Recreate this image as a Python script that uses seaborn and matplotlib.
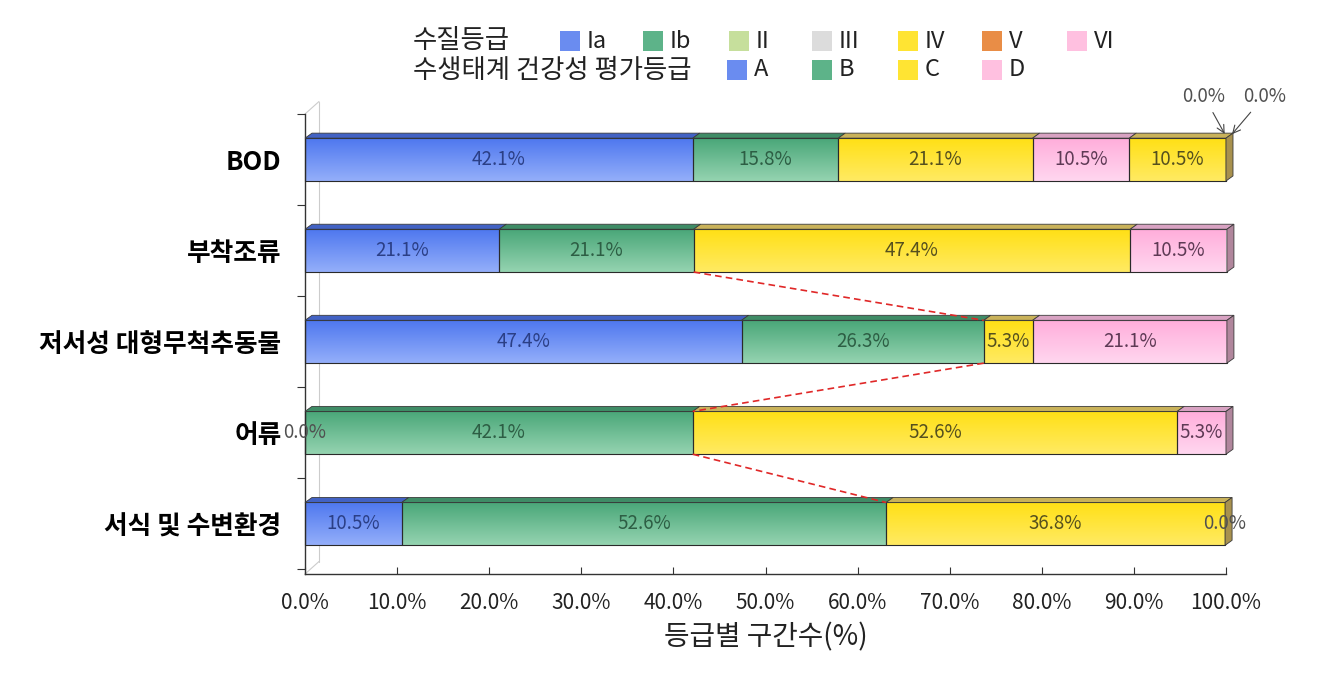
import numpy as np
import pandas as pd
import matplotlib
matplotlib.use("Agg")
import matplotlib.pyplot as plt
import matplotlib.colors as mcolors
from matplotlib.patches import Polygon, Rectangle
import seaborn as sns

# ---- data -------------------------------------------------------------
rows = ['BOD', '부착조류', '저서성 대형무척추동물', '어류', '서식 및 수변환경']
# segments left to right in each bar (nan = segment not used in that row)
seg_blue = [42.1, 21.1, 47.4, 0.0, 10.5]
seg_green = [15.8, 21.1, 26.3, 42.1, 52.6]
seg_yellow = [21.1, 47.4, 5.3, 52.6, 36.8]
seg_pink = [10.5, 10.5, 21.1, 5.3, 0.0]
seg_yellow2 = [10.5, np.nan, np.nan, np.nan, np.nan]
seg_zero1 = [0.0, np.nan, np.nan, np.nan, np.nan]
seg_zero2 = [0.0, np.nan, np.nan, np.nan, np.nan]

segments = [seg_blue, seg_green, seg_yellow, seg_pink, seg_yellow2, seg_zero1, seg_zero2]
seg_colors = [('#4f78ef', '#93aefa'), ('#4aa779', '#94d3b0'), ('#ffe016', '#ffea62'),
              ('#ffaedb', '#ffd6ef'), ('#ffe016', '#ffea62'), ('#e8904a', '#f0b080'),
              ('#ffaedb', '#ffd6ef')]
top_colors = ['#4262c4', '#3f8c66', '#c9b25a', '#d8a2c2', '#c9b25a', '#c08050', '#d8a2c2']
side_colors = ['#34509e', '#357555', '#a8914e', '#b0869c', '#a8914e', '#a06a40', '#b0869c']
text_colors = ['#2b3f86', '#2d5e44', '#55501e', '#5e3a55', '#55501e', '#555555', '#555555']

legend1_title = '수질등급'
legend1_labels = ['Ia', 'Ib', 'II', 'III', 'IV', 'V', 'VI']
legend1_colors = ['#6a8cf0', '#5db389', '#c6df9c', '#dcdcdc', '#ffe433', '#e98d46', '#ffc0e0']
legend2_title = '수생태계 건강성 평가등급'
legend2_labels = ['A', 'B', 'C', 'D']
legend2_colors = ['#6a8cf0', '#5db389', '#ffe433', '#ffc0e0']

xticks = np.arange(0, 101, 10)
xlabel = '등급별 구간수(%)'

# ---- style ------------------------------------------------------------
sns.set_theme(style='white')
plt.rcParams['font.family'] = ['Noto Sans CJK KR', 'DejaVu Sans']

W, H = 1321, 691
fig = plt.figure(figsize=(W / 100, H / 100), dpi=100)
ax = fig.add_axes([305 / W, 1 - 574 / H, 921 / W, 460 / H])

bar_h = 0.47
lefts = np.zeros(len(rows))
drawn = []  # (segment index, list of patches, values)
for k, seg in enumerate(segments):
    vals = np.array(seg, dtype=float)
    df = pd.DataFrame({'row': rows, 'val': np.nan_to_num(vals)})
    n_before = len(ax.patches)
    sns.barplot(data=df, x='val', y='row', order=rows, orient='h', color=seg_colors[k][0],
                width=bar_h, errorbar=None, left=lefts.copy(), ax=ax,
                edgecolor='#2a2a2a', linewidth=0.8)
    drawn.append((k, ax.patches[n_before:], vals))
    lefts = lefts + np.nan_to_num(vals)

ax.set_xlim(0, 100)
ax.set_ylim(4.55, -0.5)

# pixel size of one data unit, used for 3D depth
x_unit = 921 / 100.0
y_unit = 460 / 5.05
dx = 7 / x_unit
dy = 5 / y_unit

last_nonzero = {}
for k, patches, vals in drawn:
    top_c, bot_c = seg_colors[k]
    grad = np.linspace(0, 1, 32)[:, None, None]
    img = (1 - grad) * np.array(mcolors.to_rgb(top_c)) + grad * np.array(mcolors.to_rgb(bot_c))
    for i, p in enumerate(patches):
        if np.isnan(vals[i]):
            p.set_visible(False)
            continue
        x0, y0, w, h = p.get_x(), p.get_y(), p.get_width(), p.get_height()
        if w > 0:
            ax.imshow(img, extent=[x0, x0 + w, y0 + h, y0], origin='upper',
                      aspect='auto', interpolation='bilinear', zorder=2)
            last_nonzero[i] = (p, k)
        p.set_facecolor('none')
        p.set_zorder(3)
        p.set_clip_on(False)
        if w > 0:
            top = Polygon([(x0, y0), (x0 + w, y0), (x0 + w + dx, y0 - dy), (x0 + dx, y0 - dy)],
                          closed=True, facecolor=top_colors[k], edgecolor='#3a3a3a',
                          linewidth=0.6, zorder=3, clip_on=False)
            ax.add_patch(top)

# right end faces
for i, (p, k) in last_nonzero.items():
    x1 = p.get_x() + p.get_width()
    y0, h = p.get_y(), p.get_height()
    side = Polygon([(x1, y0), (x1 + dx, y0 - dy), (x1 + dx, y0 + h - dy), (x1, y0 + h)],
                   closed=True, facecolor=side_colors[k], edgecolor='#3a3a3a',
                   linewidth=0.6, zorder=3, clip_on=False)
    ax.add_patch(side)

# value labels
for k, patches, vals in drawn:
    for i, p in enumerate(patches):
        if np.isnan(vals[i]) or k >= 5:
            continue
        cx = p.get_x() + p.get_width() / 2
        cy = p.get_y() + p.get_height() / 2
        col = '#505050' if vals[i] == 0 else text_colors[k]
        ax.text(cx, cy, f'{vals[i]:.1f}%', ha='center', va='center', fontsize=13.5,
                fontweight='light', color=col, zorder=5, clip_on=False)

# BOD zero segments annotated with arrows
for (k, patches, vals), off in zip(drawn[5:], [(-22, 40), (34, 40)]):
    p = patches[0]
    ax.annotate(f'{vals[0]:.1f}%', xy=(p.get_x() + (0 if off[0] < 0 else dx * 0.6), p.get_y() - 0.02),
                xytext=off, textcoords='offset pixels', ha='center', va='center',
                fontsize=13.5, fontweight='light', color='#505050', annotation_clip=False,
                arrowprops=dict(arrowstyle='->', color='#444444', lw=0.8), zorder=6)

# series lines (A+B boundary) between ecological rows
cum_ab = np.array(seg_blue) + np.array(seg_green)
for i in range(1, len(rows) - 1):
    ax.plot([cum_ab[i], cum_ab[i + 1]], [i + bar_h / 2, i + 1 - bar_h / 2],
            color='#e02828', linestyle=(0, (4, 2.5)), linewidth=1.2, zorder=4)

# faint back wall of the 3D frame
ax.plot([dx * 2, dx * 2], [4.55 - dy * 2.5, -0.5 - dy * 2.5], color='#cccccc', lw=0.8,
        zorder=0, clip_on=False)
ax.plot([0, dx * 2], [4.55, 4.55 - dy * 2.5], color='#cccccc', lw=0.8, zorder=0, clip_on=False)
ax.plot([0, dx * 2], [-0.5, -0.5 - dy * 2.5], color='#cccccc', lw=0.8, zorder=0, clip_on=False)

# axes styling
for s in ['top', 'right']:
    ax.spines[s].set_visible(False)
for s in ['left', 'bottom']:
    ax.spines[s].set_color('#333333')
    ax.spines[s].set_linewidth(1.0)

ax.set_xticks(xticks)
ax.set_xticklabels([f'{v:.1f}%' for v in xticks], fontsize=15, color='#222222')
ax.tick_params(axis='x', direction='in', length=5, width=0.8, color='#333333', pad=13, bottom=True)
ax.set_yticks(range(len(rows)))
ax.set_yticklabels(rows, fontsize=18.5, fontweight='bold', color='black')
ax.set_yticks(np.arange(-0.5, len(rows), 1), minor=True)
ax.tick_params(axis='y', which='major', length=0, pad=17)
ax.tick_params(axis='y', which='minor', direction='out', length=6, width=0.8, color='#333333', left=True)
ax.set_ylabel('')
ax.set_xlabel(xlabel, fontsize=20, color='#222222', labelpad=6)

# legend drawn as figure text + swatches
def swatch(x_px, y_px, color):
    fig.patches.append(Rectangle((x_px / W, 1 - (y_px + 10) / H), 20 / W, 20 / H,
                                 transform=fig.transFigure, facecolor=color,
                                 edgecolor='none', figure=fig))

fig.text(413 / W, 1 - 41 / H, legend1_title, fontsize=19, va='center', ha='left', color='#222222')
x1_patch = [560, 643, 729, 812, 898, 982, 1067]
for x, lab, col in zip(x1_patch, legend1_labels, legend1_colors):
    swatch(x, 41, col)
    fig.text((x + 27) / W, 1 - 41 / H, lab, fontsize=17, va='center', ha='left', color='#222222')

fig.text(413 / W, 1 - 70 / H, legend2_title, fontsize=19, va='center', ha='left', color='#222222')
x2_patch = [727, 812, 898, 982]
for x, lab, col in zip(x2_patch, legend2_labels, legend2_colors):
    swatch(x, 70, col)
    fig.text((x + 27) / W, 1 - 70 / H, lab, fontsize=17, va='center', ha='left', color='#222222')

fig.savefig('out.png', dpi=100)
